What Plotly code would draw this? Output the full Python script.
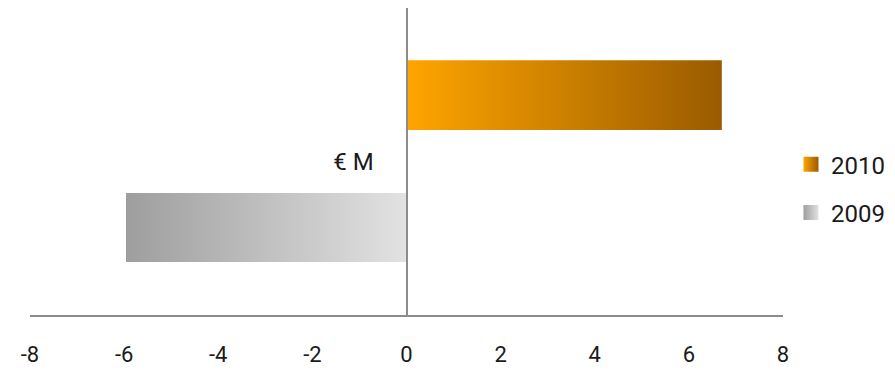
import plotly.graph_objects as go

# ---- data ----
series_names = ["2010", "2009"]
series_values = [6.7, -5.96]          # € M
category_label = "€ M"
x_tick_values = [-8, -6, -4, -2, 0, 2, 4, 6, 8]

# ---- styling / geometry (not data) ----
grad_colors = {
    "2010": ["#FFA500", "#9A5B00"],
    "2009": ["#9E9E9E", "#E2E2E2"],
}
bar_band = {"2010": (0.205, 0.66), "2009": (-0.655, -0.205)}
FONT = "Roboto, sans-serif"
AXIS_COL = "#8c8c8c"

fig = go.Figure()
for name, val in zip(series_names, series_values):
    y0, y1 = bar_band[name]
    c0, c1 = grad_colors[name]
    fig.add_trace(go.Scatter(
        x=[0, val, val, 0, 0], y=[y0, y0, y1, y1, y0],
        mode="lines", line=dict(width=0), fill="toself",
        fillgradient=dict(type="horizontal", colorscale=[[0, c0], [1, c1]]),
        showlegend=False, hoverinfo="skip",
    ))
# legend entries
for i, name in enumerate(series_names):
    c0, c1 = grad_colors[name]
    fig.add_trace(go.Scatter(
        x=[None], y=[None], mode="markers", name=name,
        legendgroup=name,
        marker=dict(symbol="square", size=15, color=c0,
                    gradient=dict(type="horizontal", color=c1),
                    line=dict(width=0)),
    ))

fig.update_layout(
    width=895, height=370,
    margin=dict(l=30, r=112, t=8, b=55, autoexpand=False),
    paper_bgcolor="white", plot_bgcolor="white",
    font=dict(family=FONT, size=24, color="#1a1a1a"),
    showlegend=True,
    legend=dict(x=1.0106, xanchor="left", y=0.563, yanchor="top",
                font=dict(size=24), tracegroupgap=14,
                bgcolor="rgba(0,0,0,0)", itemclick=False),
    xaxis=dict(range=[-8, 8], tickvals=x_tick_values,
               ticktext=[str(v) for v in x_tick_values],
               tickfont=dict(size=22),
               showgrid=False, zeroline=False, showline=True,
               linecolor=AXIS_COL, linewidth=2, ticks="",
               ticklabelstandoff=19, automargin=False, fixedrange=True),
    yaxis=dict(range=[-1, 1], anchor="free", position=0.5,
               tickvals=[0], ticktext=[category_label],
               showgrid=False, zeroline=False, showline=True,
               linecolor=AXIS_COL, linewidth=2, ticks="",
               ticklabelstandoff=27, automargin=False, fixedrange=True),
)

fig.write_html("out.html")
